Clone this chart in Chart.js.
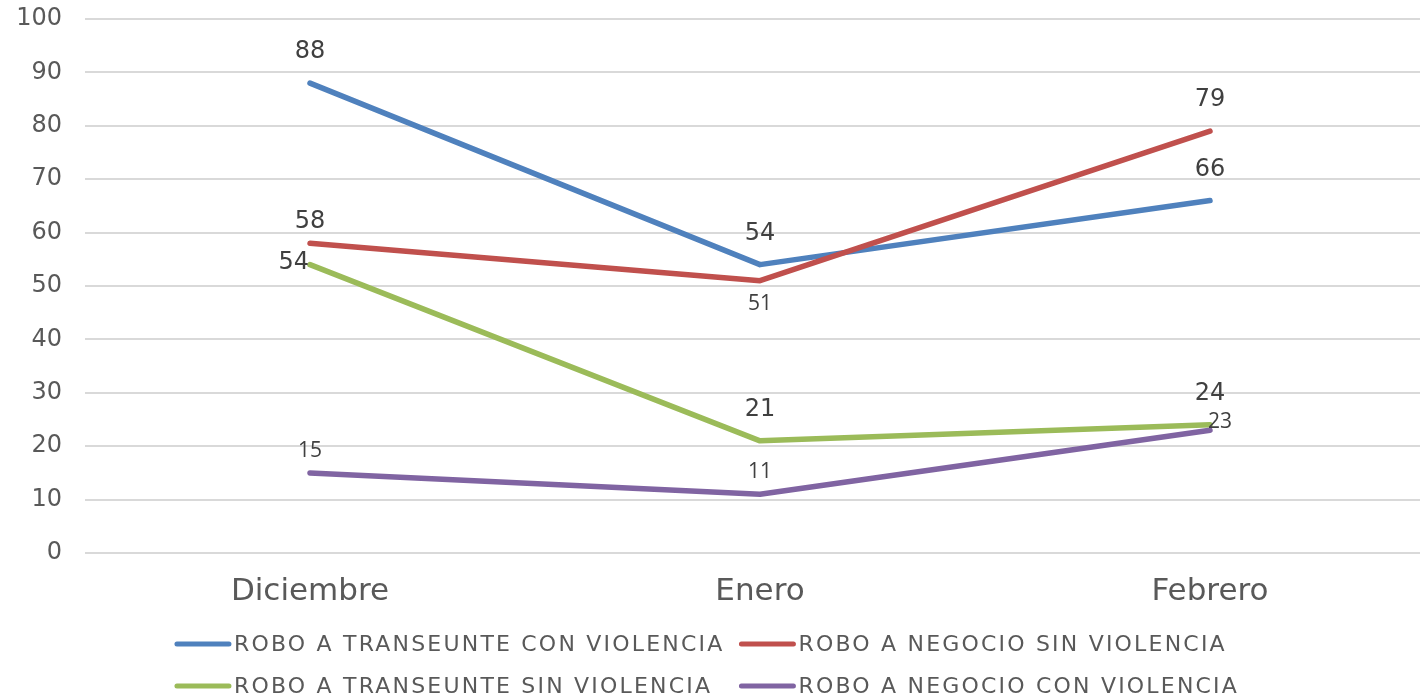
<!DOCTYPE html>
<html><head><meta charset="utf-8">
<script src="https://cdn.jsdelivr.net/npm/chart.js@4/dist/chart.umd.min.js"></script>
<style>html,body{margin:0;padding:0;background:#fff;overflow:hidden;} #wrap{width:1440px;height:698px;position:relative;}</style>
</head><body><div id="wrap"><canvas id="c"></canvas></div>
<script>
// ---- data ----
const categories = ['Diciembre', 'Enero', 'Febrero'];
const seriesNames = ['ROBO A TRANSEUNTE CON VIOLENCIA', 'ROBO A NEGOCIO SIN VIOLENCIA', 'ROBO A TRANSEUNTE SIN VIOLENCIA', 'ROBO A NEGOCIO CON VIOLENCIA'];
const transeunteConViolencia = [88, 54, 66];
const negocioSinViolencia = [58, 51, 79];
const transeunteSinViolencia = [54, 21, 24];
const negocioConViolencia = [15, 11, 23];
const yMin = 0, yMax = 100, yStep = 10;

// ---- styles ----
const seriesColors = ['#4F81BD', '#C0504D', '#9BBB59', '#8064A2'];
const seriesValues = [transeunteConViolencia, negocioSinViolencia, transeunteSinViolencia, negocioConViolencia];
const labelPlacement = [
  ['above', 'above', 'above'],
  ['aboveNear', 'below', 'above'],
  ['left', 'above', 'above'],
  ['aboveNear', 'aboveNear', 'right']
];
const labelAltFont = [
  [0, 0, 0],
  [0, 1, 0],
  [0, 0, 0],
  [1, 1, 1]
];
const placementOffsets = {
  above: {dx: 0, dy: -31, align: 'center'},
  aboveNear: {dx: 0, dy: -22, align: 'center'},
  below: {dx: 0, dy: 23, align: 'center'},
  left: {dx: -1, dy: -2, align: 'right'},
  right: {dx: -2, dy: -8, align: 'left'}
};

const dataLabelsPlugin = {
  id: 'dataLabels',
  afterDatasetsDraw(chart) {
    const ctx = chart.ctx;
    ctx.save();
    ctx.textBaseline = 'middle';
    chart.data.datasets.forEach((ds, di) => {
      const meta = chart.getDatasetMeta(di);
      meta.data.forEach((pt, i) => {
        const p = placementOffsets[labelPlacement[di][i]];
        ctx.font = labelAltFont[di][i] ? "21px 'Open Sans'" : "24px 'DejaVu Sans'";
        ctx.fillStyle = '#404040';
        ctx.textAlign = p.align;
        ctx.fillText(String(ds.data[i]), pt.x + p.dx, pt.y + p.dy);
      });
    });
    ctx.restore();
  }
};

const legendPlugin = {
  id: 'bottomLegend',
  afterDraw(chart) {
    const ctx = chart.ctx;
    ctx.save();
    ctx.font = "22px 'DejaVu Sans'";
    ctx.letterSpacing = '2.2px';
    ctx.textBaseline = 'middle';
    ctx.textAlign = 'left';
    const sw = 56, gap = 3, colGap = 15;
    const widths = seriesNames.map(n => sw + gap + ctx.measureText(n).width);
    const col1 = Math.max(widths[0], widths[2]) + colGap;
    const col2 = Math.max(widths[1], widths[3]);
    const startX = (1414 - (col1 + col2)) / 2;
    const rowsY = [chart.height - 54, chart.height - 12];
    seriesNames.forEach((name, i) => {
      const col = i % 2, row = Math.floor(i / 2);
      const x = startX + (col ? col1 : 0);
      const y = rowsY[row];
      ctx.strokeStyle = seriesColors[i];
      ctx.lineWidth = 5;
      ctx.lineCap = 'round';
      ctx.beginPath();
      ctx.moveTo(x + 2, y);
      ctx.lineTo(x + sw - 2, y);
      ctx.stroke();
      ctx.fillStyle = '#595959';
      ctx.fillText(name, x + sw + gap, y + 1);
    });
    ctx.restore();
  }
};

new Chart(document.getElementById('c'), {
  type: 'line',
  data: {
    labels: categories,
    datasets: seriesNames.map((name, i) => ({
      label: name,
      data: seriesValues[i],
      borderColor: seriesColors[i],
      backgroundColor: seriesColors[i],
      borderWidth: 5.5,
      borderCapStyle: 'round',
      borderJoinStyle: 'round',
      pointRadius: 0,
      tension: 0,
      order: 4 - i
    }))
  },
  options: {
    responsive: true,
    maintainAspectRatio: false,
    animation: false,
    layout: {padding: {top: 19, right: 5, left: 0, bottom: 85}},
    plugins: {legend: {display: false}, tooltip: {enabled: false}},
    scales: {
      x: {
        offset: true,
        grid: {display: false},
        border: {display: false},
        ticks: {color: '#595959', font: {family: 'DejaVu Sans', size: 31}, padding: 12},
        afterFit(s) { s.height = 60; s.paddingLeft = 0; s.paddingRight = 0; }
      },
      y: {
        min: yMin, max: yMax,
        grid: {color: '#D9D9D9', lineWidth: 2, drawTicks: false},
        border: {display: false},
        ticks: {stepSize: yStep, color: '#595959', font: {family: 'DejaVu Sans', size: 24}, padding: 23},
        afterFit(s) { s.width = 85; s.paddingTop = 0; s.paddingBottom = 0; }
      }
    }
  },
  plugins: [dataLabelsPlugin, legendPlugin]
});
</script></body></html>
